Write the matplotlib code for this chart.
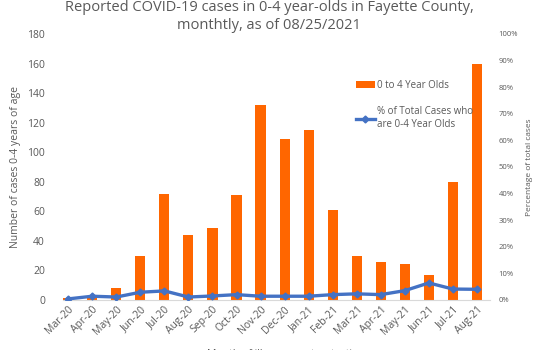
import matplotlib.pyplot as plt
import matplotlib.ticker as mticker
import numpy as np

plt.rcParams['font.family'] = ['Open Sans', 'DejaVu Sans']

# Data
months = ['Mar-20', 'Apr-20', 'May-20', 'Jun-20', 'Jul-20', 'Aug-20', 'Sep-20',
          'Oct-20', 'Nov-20', 'Dec-20', 'Jan-21', 'Feb-21', 'Mar-21', 'Apr-21',
          'May-21', 'Jun-21', 'Jul-21', 'Aug-21']
cases_0_4 = [1, 2, 8, 30, 72, 44, 49, 71, 132, 109, 115, 61, 30, 26, 24, 17, 80, 160]
pct_of_total = [0.4, 1.4, 1.1, 2.9, 3.4, 1.1, 1.5, 2.0, 1.4, 1.4, 1.4, 2.0, 2.3, 2.0,
                3.5, 6.4, 4.1, 4.0]

grey = '#595959'
orange = '#FF6600'
blue = '#4472C4'

fig = plt.figure(figsize=(5.38, 3.5), dpi=100)
ax = fig.add_axes([0.117, 0.143, 0.794, 0.760])
ax2 = ax.twinx()

x = np.arange(len(months))
bars = ax.bar(x, cases_0_4, width=0.42, color=orange, label='0 to 4 Year Olds', zorder=2)
line, = ax2.plot(x, pct_of_total, color=blue, lw=2.4, marker='D', ms=3.5,
                 label='% of Total Cases who\nare 0-4 Year Olds')

ax.set_xlim(-0.22, 17.55)
ax.set_ylim(0, 180)
ax.set_yticks(range(0, 181, 20))
ax2.set_ylim(0, 100)
ax2.set_yticks(range(0, 101, 10))
ax2.yaxis.set_major_formatter(mticker.FuncFormatter(lambda v, p: f'{int(v)}%'))

for a in (ax, ax2):
    for s in a.spines.values():
        s.set_visible(False)
    a.tick_params(length=0)
ax.spines['bottom'].set_visible(True)
ax.spines['bottom'].set_color('#D9D9D9')

ax.set_xticks(x)
ax.set_xticklabels(months, rotation=45, ha='right', rotation_mode='anchor',
                   fontsize=7.5, color=grey)
ax.tick_params(axis='x', pad=3)
ax.tick_params(axis='y', labelsize=7.5, labelcolor=grey, pad=13)
ax2.tick_params(axis='y', labelsize=5.5, labelcolor=grey, pad=6)

ax.set_ylabel('Number of cases 0-4 years of age', fontsize=7.5, color=grey, labelpad=4)
ax2.set_ylabel('Percentage of total cases', fontsize=6, color=grey, labelpad=6)

fig.text(0.5, 0.953, 'Reported COVID-19 cases in 0-4 year-olds in Fayette County,\nmonthtly, as of 08/25/2021',
         ha='center', va='center', fontsize=10.5, color=grey, linespacing=1.3)
fig.text(0.53, -0.012, 'Month of illness onset or testing', ha='center', va='center',
         fontsize=7.5, color=grey)

leg = ax2.legend([bars, line], ['0 to 4 Year Olds', '% of Total Cases who\nare 0-4 Year Olds'],
                 loc='upper left', bbox_to_anchor=(0.665, 0.86), frameon=False,
                 fontsize=7, labelcolor=grey, handlelength=2.0, handletextpad=0.15,
                 labelspacing=1.6)

fig.savefig('out.png', dpi=100)
